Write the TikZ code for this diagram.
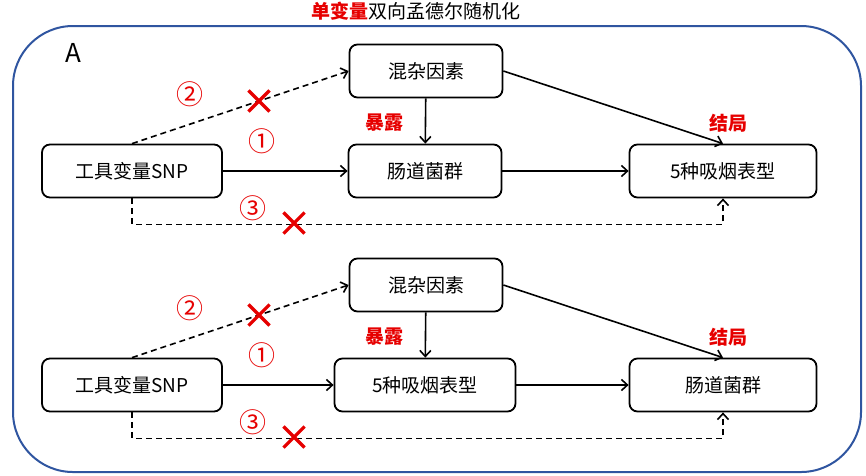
\documentclass[tikz,border=0pt]{standalone}
\usepackage{fontspec}
\newfontfamily\cjk{Noto Sans CJK SC}
\usetikzlibrary{arrows.meta,shapes.misc}

\definecolor{frameblue}{RGB}{47,85,160}
\definecolor{markred}{RGB}{230,0,0}

\tikzset{
	box/.style={draw, line width=1.8pt, rounded corners=8pt, minimum height=53pt,
		inner sep=0pt, font=\cjk\fontsize{19}{21}\selectfont},
	link/.style={line width=1.6pt, -{Straight Barb[length=6pt,width=11pt]}},
	nolink/.style={link, dash pattern=on 6pt off 4pt},
	tag/.style={text=markred, font=\cjk\bfseries\fontsize{19}{21}\selectfont},
	num/.style={text=markred, font=\cjk\fontsize{27}{29}\selectfont},
	cross/.style={cross out, draw=markred, line width=3.2pt, minimum size=18pt, inner sep=0pt},
}

\begin{document}
\begin{tikzpicture}[x=1pt,y=-1pt]
	\useasboundingbox (0,0) rectangle (866,475);

	% frame and title
	\draw[frameblue, line width=2pt, rounded corners=60pt] (13,26) rectangle (861,472);
	\node[font=\cjk\fontsize{19}{21}\selectfont] (title) at (416,11)
		{\textcolor{markred}{\bfseries 单变量}双向孟德尔随机化};
	\node[font=\cjk\fontsize{26}{28}\selectfont] (panel) at (73,53) {A};

	% two rows: gut -> smoking, smoking -> gut
	\foreach \row/\mid/\midw/\out in {0/肠道菌群/153/5种吸烟表型, 214/5种吸烟表型/181/肠道菌群} {
		\begin{scope}[yshift=-\row pt]

			% boxes
			\node[box, minimum width=153pt] (conf\row) at (426,71) {混杂因素};
			\node[box, minimum width=180pt] (snp\row) at (132,171) {工具变量SNP};
			\node[box, minimum width=\midw pt] (mid\row) at (425,171) {\mid};
			\node[box, minimum width=187pt] (out\row) at (723,171) {\out};

			% arrows
			\draw[link] (snp\row) -- (mid\row);
			\draw[link] (mid\row) -- (out\row);
			\draw[link] (conf\row) -- (mid\row);
			\draw[link] (conf\row.east) -- (out\row.north);
			\draw[nolink] (snp\row.north) -- (conf\row.west);
			\draw[nolink] (snp\row.south) -- ++(0,26) -| (out\row.south);

			% labels
			\node[tag] (expo\row) at (384,123) {暴露};
			\node[tag] (outc\row) at (728,123) {结局};
			\node[num] (one\row) at (262,141) {①};
			\node[num] (two\row) at (190,94) {②};
			\node[num] (three\row) at (253,208) {③};
			\node[cross] (xtwo\row) at (259,101) {};
			\node[cross] (xthree\row) at (294,223) {};

		\end{scope}
	}

\end{tikzpicture}
\end{document}
